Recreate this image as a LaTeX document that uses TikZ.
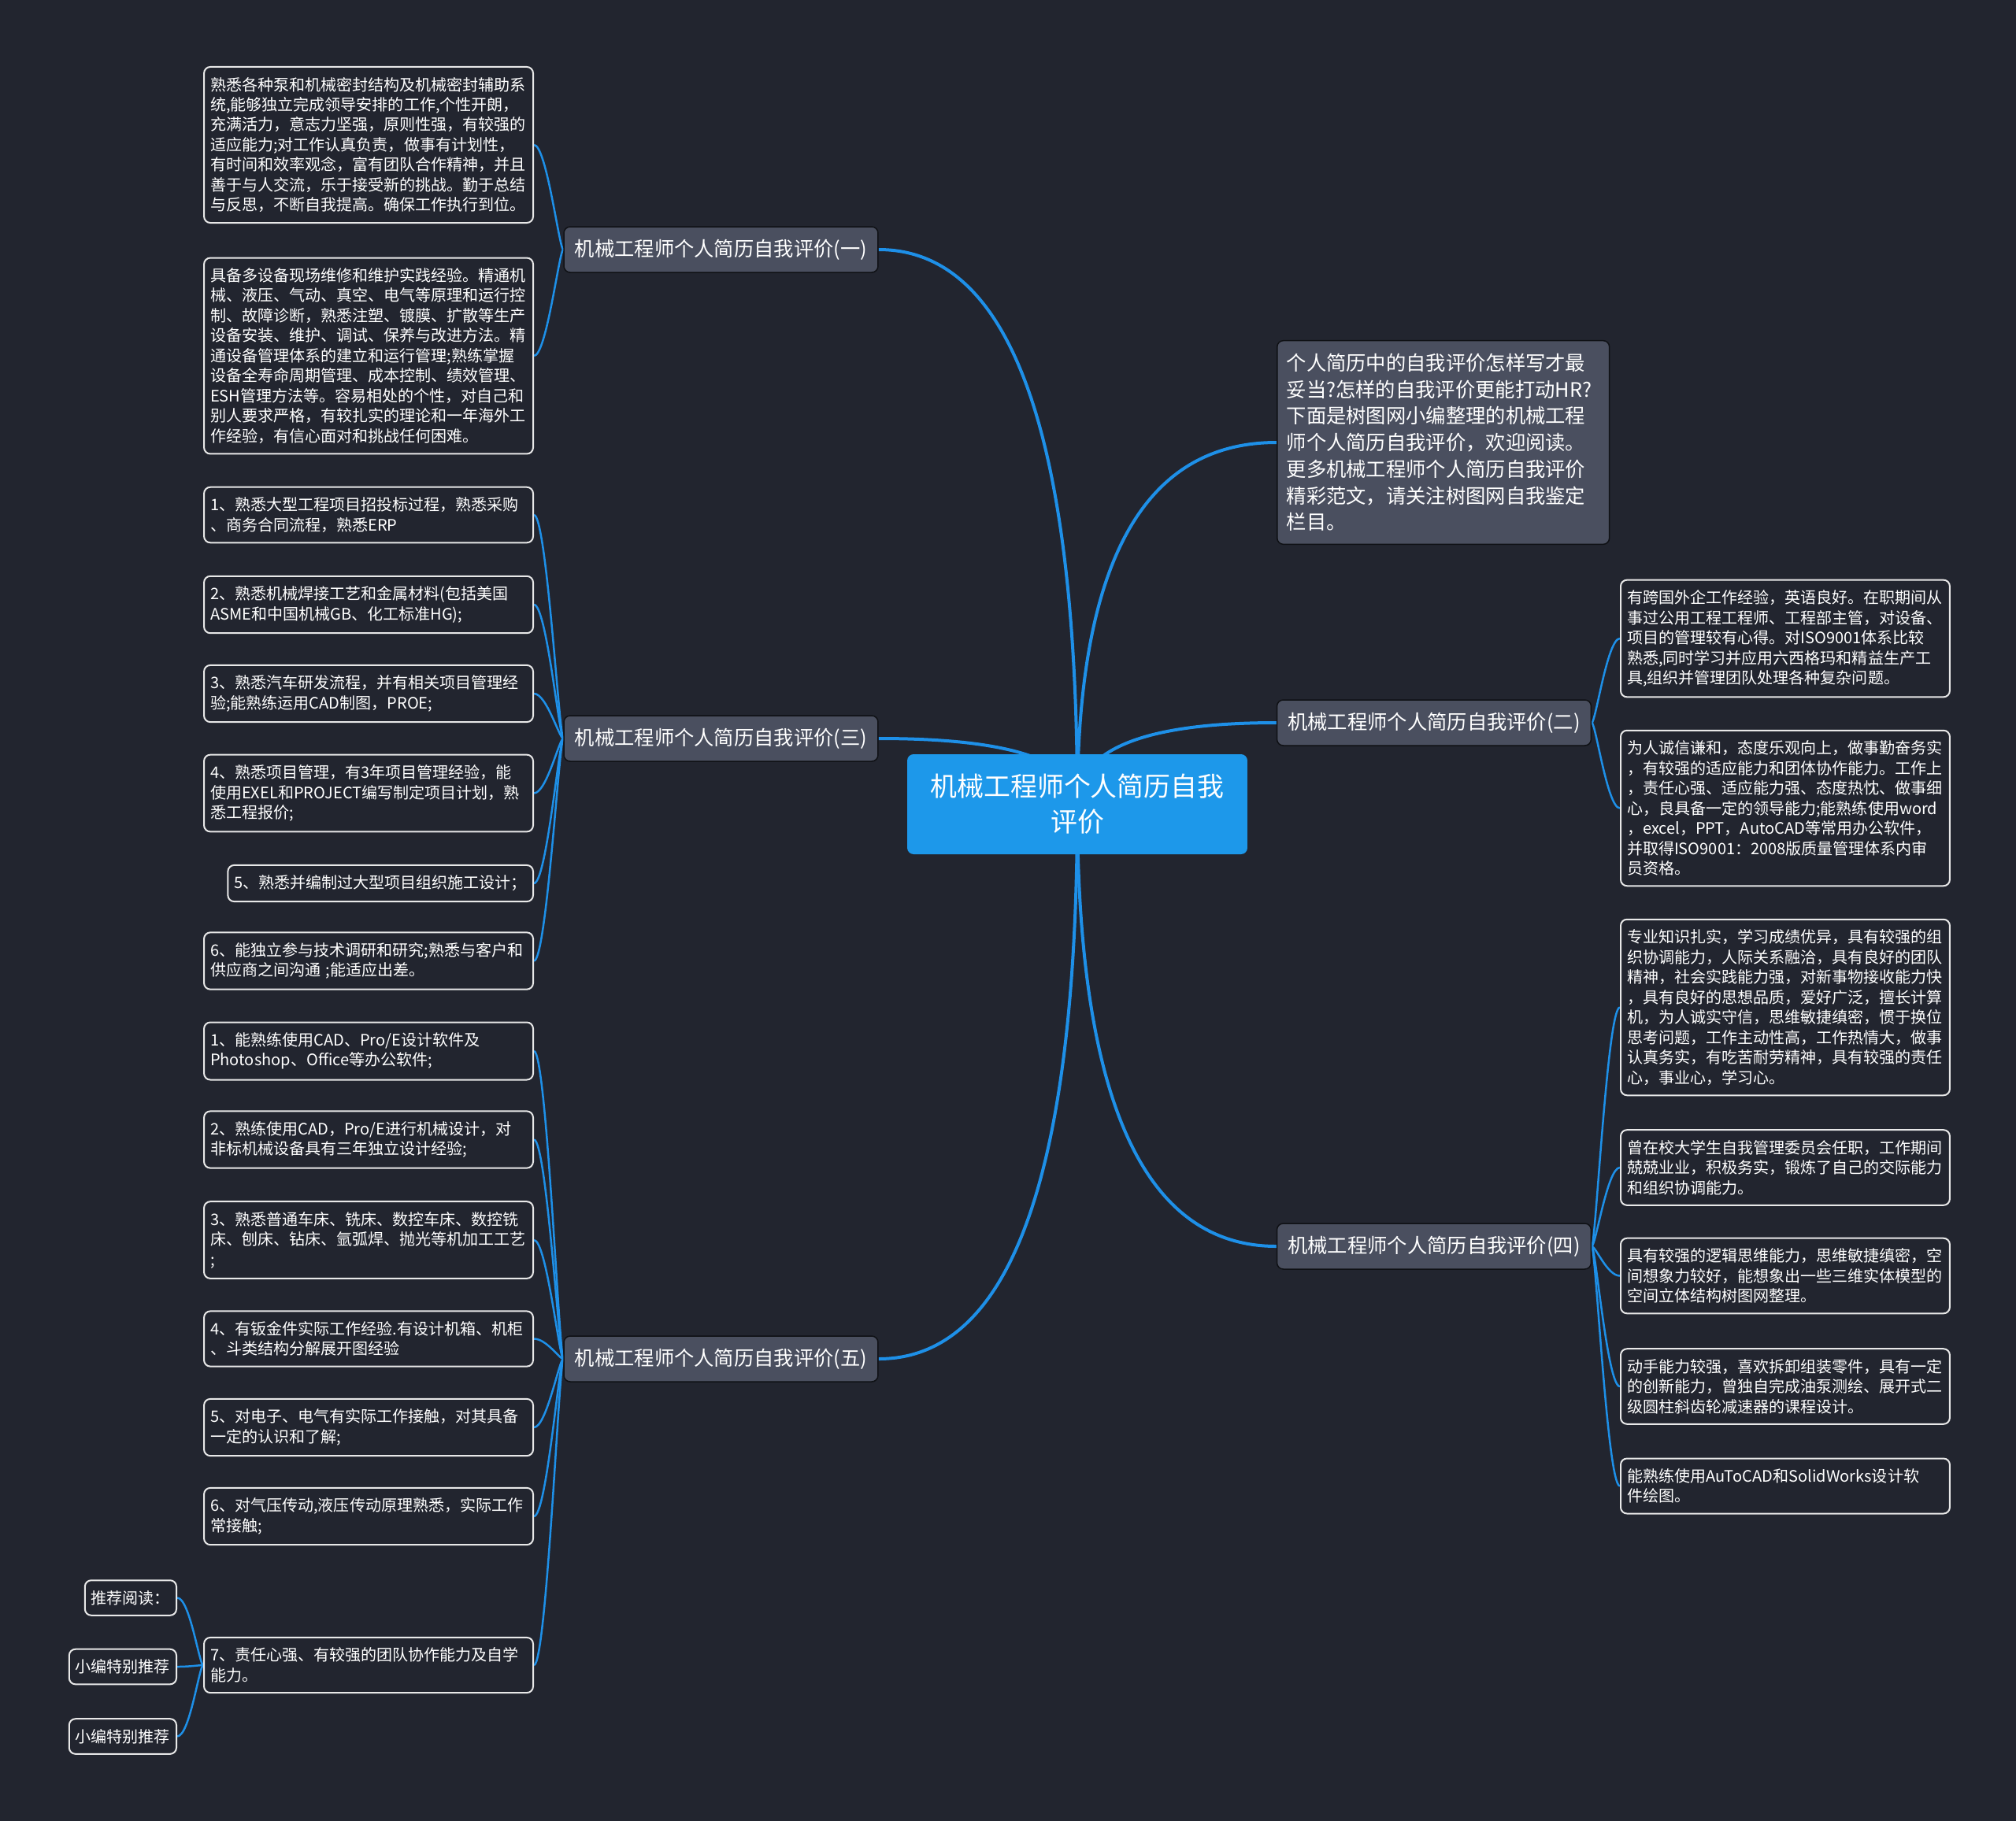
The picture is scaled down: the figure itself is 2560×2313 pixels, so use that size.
\documentclass[tikz,border=0pt]{standalone}
\usepackage{fontspec}
\setmainfont{Noto Sans CJK SC}
\usetikzlibrary{backgrounds}

\definecolor{bgcol}{HTML}{22252F}
\definecolor{linecol}{HTML}{1E90E8}
\definecolor{boxcol}{HTML}{4A4F5F}
\definecolor{rootcol}{HTML}{1D98EA}
\definecolor{leafline}{HTML}{E8E8E8}

\newcommand{\leaffont}{\fontsize{11.4}{14.5}\selectfont}
\newcommand{\branchfont}{\fontsize{14.4}{19.2}\selectfont}
\newcommand{\rootfont}{\fontsize{19.3}{25.5}\selectfont}

\tikzset{
  leafbox/.style={draw=leafline, line width=0.04cm, fill=bgcol, rounded corners=0.16cm,
    text=white, font=\leaffont, align=left, inner xsep=0.16cm, inner ysep=0.26cm},
  leafwide/.style={leafbox, text width=8.04cm},
  branchbox/.style={draw=black!55!bgcol, line width=0.03cm, fill=boxcol, rounded corners=0.16cm,
    text=white, font=\branchfont, inner xsep=0.24cm, minimum height=1.16cm, minimum width=7.98cm},
  introbox/.style={branchbox, text width=7.96cm, align=left, inner ysep=0.33cm},
  rootbox/.style={fill=rootcol, rounded corners=0.16cm, text=white, font=\rootfont,
    align=center, text width=8cm, minimum width=8.64cm, minimum height=2.54cm},
  mainedge/.style={draw=linecol, line width=0.08cm},
  leafedge/.style={draw=linecol, line width=0.05cm},
}

\begin{document}
\begin{tikzpicture}[x={(0.02cm,0cm)}, y={(0cm,-0.02cm)}]
    \useasboundingbox (0,0) rectangle (2560,2313);

    % 中心主题
    \node[rootbox] (root) at (1368,1021.5) {机械工程师个人简历自我\\评价};

    % 一级分支
    \node[branchbox] (b1) at (915.5,317) {机械工程师个人简历自我评价(一)};
    \node[branchbox] (b3) at (915.5,938) {机械工程师个人简历自我评价(三)};
    \node[branchbox] (b5) at (915.5,1726) {机械工程师个人简历自我评价(五)};
    \node[branchbox] (b2) at (1821,918) {机械工程师个人简历自我评价(二)};
    \node[branchbox] (b4) at (1821,1583) {机械工程师个人简历自我评价(四)};
    \node[introbox, anchor=west] (intro) at (1621,562) {个人简历中的自我评价怎样写才最\\妥当?怎样的自我评价更能打动HR?\\下面是树图网小编整理的机械工程\\师个人简历自我评价，欢迎阅读。\\更多机械工程师个人简历自我评价\\精彩范文，请关注树图网自我鉴定\\栏目。};

    % (一) 的子节点
    \node[leafwide, anchor=east] (l1a) at (678,184) {熟悉各种泵和机械密封结构及机械密封辅助系\\统,能够独立完成领导安排的工作,个性开朗，\\充满活力，意志力坚强，原则性强，有较强的\\适应能力;对工作认真负责，做事有计划性，\\有时间和效率观念，富有团队合作精神，并且\\善于与人交流，乐于接受新的挑战。勤于总结\\与反思，不断自我提高。确保工作执行到位。};
    \node[leafwide, anchor=east] (l1b) at (678,452) {具备多设备现场维修和维护实践经验。精通机\\械、液压、气动、真空、电气等原理和运行控\\制、故障诊断，熟悉注塑、镀膜、扩散等生产\\设备安装、维护、调试、保养与改进方法。精\\通设备管理体系的建立和运行管理;熟练掌握\\设备全寿命周期管理、成本控制、绩效管理、\\ESH管理方法等。容易相处的个性，对自己和\\别人要求严格，有较扎实的理论和一年海外工\\作经验，有信心面对和挑战任何困难。};

    % (三) 的子节点
    \node[leafwide, anchor=east] (l3a) at (678,654) {1、熟悉大型工程项目招投标过程，熟悉采购\\、商务合同流程，熟悉ERP};
    \node[leafwide, anchor=east] (l3b) at (678,768) {2、熟悉机械焊接工艺和金属材料(包括美国\\ASME和中国机械GB、化工标准HG);};
    \node[leafwide, anchor=east] (l3c) at (678,881) {3、熟悉汽车研发流程，并有相关项目管理经\\验;能熟练运用CAD制图，PROE;};
    \node[leafwide, anchor=east] (l3d) at (678,1007.5) {4、熟悉项目管理，有3年项目管理经验，能\\使用EXEL和PROJECT编写制定项目计划，熟\\悉工程报价;};
    \node[leafbox, anchor=east] (l3e) at (678,1122) {5、熟悉并编制过大型项目组织施工设计；};
    \node[leafwide, anchor=east] (l3f) at (678,1220.5) {6、能独立参与技术调研和研究;熟悉与客户和\\供应商之间沟通 ;能适应出差。};

    % (五) 的子节点
    \node[leafwide, anchor=east] (l5a) at (678,1335) {1、能熟练使用CAD、Pro/E设计软件及\\Photoshop、Office等办公软件;};
    \node[leafwide, anchor=east] (l5b) at (678,1447.5) {2、熟练使用CAD，Pro/E进行机械设计，对\\非标机械设备具有三年独立设计经验;};
    \node[leafwide, anchor=east] (l5c) at (678,1575) {3、熟悉普通车床、铣床、数控车床、数控铣\\床、刨床、钻床、氩弧焊、抛光等机加工工艺\\;};
    \node[leafwide, anchor=east] (l5d) at (678,1700.5) {4、有钣金件实际工作经验.有设计机箱、机柜\\、斗类结构分解展开图经验};
    \node[leafwide, anchor=east] (l5e) at (678,1813) {5、对电子、电气有实际工作接触，对其具备\\一定的认识和了解;};
    \node[leafwide, anchor=east] (l5f) at (678,1926) {6、对气压传动,液压传动原理熟悉，实际工作\\常接触;};
    \node[leafwide, anchor=east] (l5g) at (678,2115) {7、责任心强、有较强的团队协作能力及自学\\能力。};

    % 7、的子节点
    \node[leafbox, anchor=east] (s1) at (225,2029.5) {推荐阅读：};
    \node[leafbox, anchor=east] (s2) at (225,2117) {小编特别推荐};
    \node[leafbox, anchor=east] (s3) at (225,2205.5) {小编特别推荐};

    % (二) 的子节点
    \node[leafwide, anchor=west] (r2a) at (2057,811) {有跨国外企工作经验，英语良好。在职期间从\\事过公用工程工程师、工程部主管，对设备、\\项目的管理较有心得。对ISO9001体系比较\\熟悉,同时学习并应用六西格玛和精益生产工\\具,组织并管理团队处理各种复杂问题。};
    \node[leafwide, anchor=west] (r2b) at (2057,1026.5) {为人诚信谦和，态度乐观向上，做事勤奋务实\\，有较强的适应能力和团体协作能力。工作上\\，责任心强、适应能力强、态度热忱、做事细\\心，良具备一定的领导能力;能熟练使用word\\，excel，PPT，AutoCAD等常用办公软件，\\并取得ISO9001：2008版质量管理体系内审\\员资格。};

    % (四) 的子节点
    \node[leafwide, anchor=west] (r4a) at (2057,1279.5) {专业知识扎实，学习成绩优异，具有较强的组\\织协调能力，人际关系融洽，具有良好的团队\\精神，社会实践能力强，对新事物接收能力快\\，具有良好的思想品质，爱好广泛，擅长计算\\机，为人诚实守信，思维敏捷缜密，惯于换位\\思考问题，工作主动性高，工作热情大，做事\\认真务实，有吃苦耐劳精神，具有较强的责任\\心，事业心，学习心。};
    \node[leafwide, anchor=west] (r4b) at (2057,1483) {曾在校大学生自我管理委员会任职，工作期间\\兢兢业业，积极务实，锻炼了自己的交际能力\\和组织协调能力。};
    \node[leafwide, anchor=west] (r4c) at (2057,1620.5) {具有较强的逻辑思维能力，思维敏捷缜密，空\\间想象力较好，能想象出一些三维实体模型的\\空间立体结构树图网整理。};
    \node[leafwide, anchor=west] (r4d) at (2057,1761) {动手能力较强，喜欢拆卸组装零件，具有一定\\的创新能力，曾独自完成油泵测绘、展开式二\\级圆柱斜齿轮减速器的课程设计。};
    \node[leafwide, anchor=west] (r4e) at (2057,1887.5) {能熟练使用AuToCAD和SolidWorks设计软\\件绘图。};

    % 连线 (放在背景层)
    \begin{pgfonlayer}{background}
        \fill[bgcol] (0,0) rectangle (2560,2313);

        % 中心到一级分支
        \draw[mainedge] (root.center) .. controls (1368,552) and (1284,317) .. (b1.east);
        \draw[mainedge] (root.center) .. controls (1368,966) and (1284,938) .. (b3.east);
        \draw[mainedge] (root.center) .. controls (1368,1491) and (1284,1726) .. (b5.east);
        \draw[mainedge] (root.center) .. controls (1368,715) and (1452,562) .. (intro.west);
        \draw[mainedge] (root.center) .. controls (1368,952) and (1452,918) .. (b2.west);
        \draw[mainedge] (root.center) .. controls (1368,1396) and (1452,1583) .. (b4.west);

        % 左侧子节点
        \draw[leafedge] (l1a.east) .. controls +(16,0) and +(-5,0) .. (b1.west);
        \draw[leafedge] (l1b.east) .. controls +(16,0) and +(-5,0) .. (b1.west);
        \draw[leafedge] (l3a.east) .. controls +(16,0) and +(-5,0) .. (b3.west);
        \draw[leafedge] (l3b.east) .. controls +(16,0) and +(-5,0) .. (b3.west);
        \draw[leafedge] (l3c.east) .. controls +(16,0) and +(-5,0) .. (b3.west);
        \draw[leafedge] (l3d.east) .. controls +(16,0) and +(-5,0) .. (b3.west);
        \draw[leafedge] (l3e.east) .. controls +(16,0) and +(-5,0) .. (b3.west);
        \draw[leafedge] (l3f.east) .. controls +(16,0) and +(-5,0) .. (b3.west);
        \draw[leafedge] (l5a.east) .. controls +(16,0) and +(-5,0) .. (b5.west);
        \draw[leafedge] (l5b.east) .. controls +(16,0) and +(-5,0) .. (b5.west);
        \draw[leafedge] (l5c.east) .. controls +(16,0) and +(-5,0) .. (b5.west);
        \draw[leafedge] (l5d.east) .. controls +(16,0) and +(-5,0) .. (b5.west);
        \draw[leafedge] (l5e.east) .. controls +(16,0) and +(-5,0) .. (b5.west);
        \draw[leafedge] (l5f.east) .. controls +(16,0) and +(-5,0) .. (b5.west);
        \draw[leafedge] (l5g.east) .. controls +(16,0) and +(-5,0) .. (b5.west);
        \draw[leafedge] (s1.east) .. controls +(16,0) and +(-5,0) .. (l5g.west);
        \draw[leafedge] (s2.east) .. controls +(16,0) and +(-5,0) .. (l5g.west);
        \draw[leafedge] (s3.east) .. controls +(16,0) and +(-5,0) .. (l5g.west);

        % 右侧子节点
        \draw[leafedge] (b2.east) .. controls +(5,0) and +(-16,0) .. (r2a.west);
        \draw[leafedge] (b2.east) .. controls +(5,0) and +(-16,0) .. (r2b.west);
        \draw[leafedge] (b4.east) .. controls +(5,0) and +(-16,0) .. (r4a.west);
        \draw[leafedge] (b4.east) .. controls +(5,0) and +(-16,0) .. (r4b.west);
        \draw[leafedge] (b4.east) .. controls +(5,0) and +(-16,0) .. (r4c.west);
        \draw[leafedge] (b4.east) .. controls +(5,0) and +(-16,0) .. (r4d.west);
        \draw[leafedge] (b4.east) .. controls +(5,0) and +(-16,0) .. (r4e.west);
    \end{pgfonlayer}
\end{tikzpicture}
\end{document}
